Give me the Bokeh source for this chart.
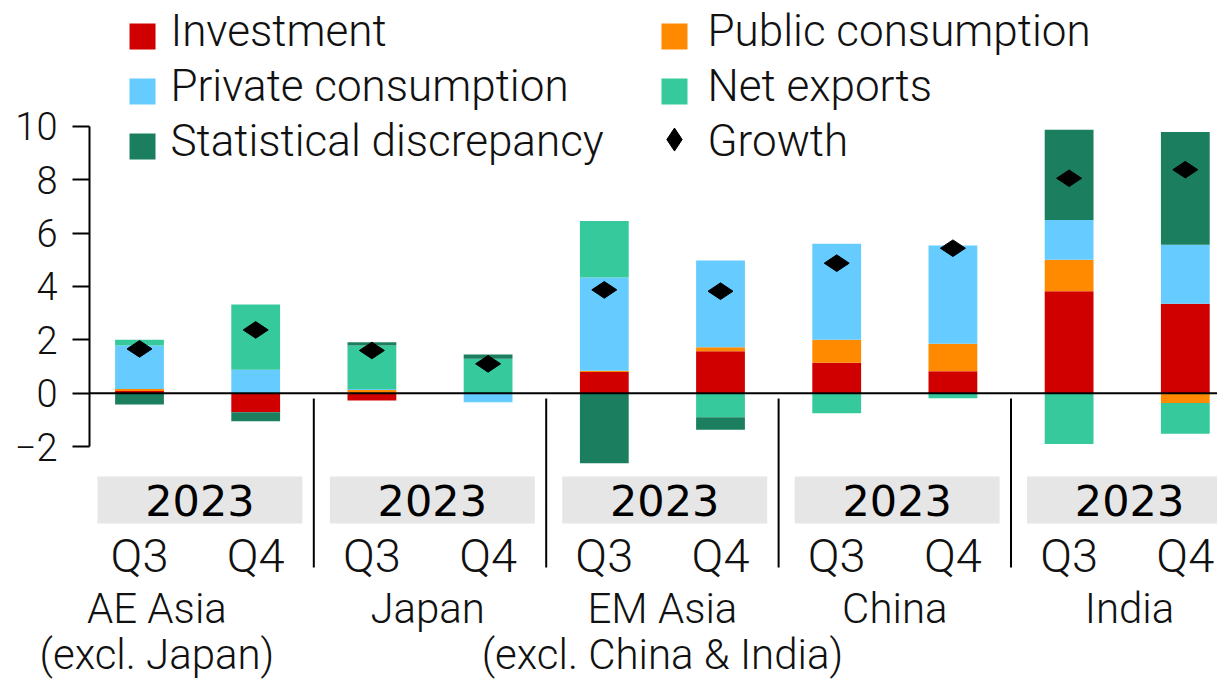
import math
from bokeh.plotting import figure
from bokeh.embed import file_html
from bokeh.resources import INLINE
from bokeh.models import Range1d, LinearAxis, FixedTicker, Span
from bokeh.core.properties import value

# ---------------- data ----------------
regions = ["AE Asia", "Japan", "EM Asia", "China", "India"]
region_notes = ["(excl. Japan)", "", "(excl. China & India)", "", ""]
year_label = "2023"
quarters = ["Q3", "Q4"]

investment  = [0.08, -0.71, -0.27,  0.00,  0.79,  1.57,  1.14,  0.82,  3.82,  3.35]
public_cons = [0.08,  0.00,  0.12,  0.00,  0.05,  0.15,  0.86,  1.03,  1.18, -0.37]
private_cons= [1.63,  0.88,  0.04, -0.34,  3.49,  3.25,  3.60,  3.68,  1.49,  2.21]
net_exports = [0.21,  2.44,  1.63,  1.29,  2.12, -0.90, -0.75, -0.19, -1.90, -1.15]
stat_disc   = [-0.42, -0.34, 0.12,  0.16, -2.62, -0.47,  0.00,  0.00,  3.38,  4.22]
growth      = [1.66,  2.37,  1.60,  1.10,  3.87,  3.82,  4.87,  5.43,  8.05,  8.37]

series_names = ["Investment", "Public consumption", "Private consumption",
                "Net exports", "Statistical discrepancy"]
series_vals = [investment, public_cons, private_cons, net_exports, stat_disc]
colors = ["#d10000", "#ff8a00", "#66ccff", "#36c99c", "#1b7f5f"]

y_ticks = [-2, 0, 2, 4, 6, 8, 10]

# ---------------- layout ----------------
FONT = "Roboto Light"
n_bars = len(investment)
bar_x = [i + 0.5 for i in range(n_bars)]
group_x = [2 * g + 1 for g in range(len(regions))]
sep_x = [2 * g for g in range(1, len(regions))]
region_label_x = [0.65, 2.98, 5.0, 7.0, 9.02]

p = figure(width=1217, height=683, output_backend="svg", toolbar_location=None,
           x_range=Range1d(0.0697, 9.777), y_range=Range1d(-7.015, 14.708),
           x_axis_type=None, y_axis_type=None,
           min_border_left=89, min_border_right=0, min_border_top=0, min_border_bottom=103)
p.outline_line_color = None
p.grid.visible = False
p.background_fill_color = "white"
p.border_fill_color = "white"

# y axis (bracket style)
yaxis = LinearAxis(ticker=FixedTicker(ticks=y_ticks), bounds=(-2, 10))
yaxis.axis_line_color = "black"
yaxis.axis_line_width = 2
yaxis.major_tick_line_color = "black"
yaxis.major_tick_line_width = 2
yaxis.major_tick_in = 0
yaxis.major_tick_out = 17
yaxis.minor_tick_line_color = None
yaxis.major_label_standoff = 15
yaxis.major_label_text_font = FONT
yaxis.major_label_text_font_size = "38px"
yaxis.major_label_text_color = "#111111"
p.add_layout(yaxis, "left")

# region names as a bottom axis (two-line labels)
region_text = {}
for rx, name, note in zip(region_label_x, regions, region_notes):
    region_text[rx] = name + ("\n" + note if note else "")
xaxis = LinearAxis(ticker=FixedTicker(ticks=region_label_x, minor_ticks=[]),
                   major_label_overrides=region_text)
xaxis.axis_line_color = None
xaxis.major_tick_line_color = None
xaxis.minor_tick_line_color = None
xaxis.major_tick_in = 0
xaxis.major_tick_out = 0
xaxis.major_label_standoff = 3
xaxis.major_label_text_font = FONT
xaxis.major_label_text_font_size = "42px"
xaxis.major_label_text_line_height = 0.95
xaxis.major_label_text_color = "#111111"
xaxis.major_label_text_align = "center"
p.add_layout(xaxis, "below")

# stacked bars (positive and negative stacks separately)
pos_base = [0.0] * n_bars
neg_base = [0.0] * n_bars
for name, vals, col in zip(series_names, series_vals, colors):
    bottoms, tops = [], []
    for i, v in enumerate(vals):
        if v >= 0:
            bottoms.append(pos_base[i]); tops.append(pos_base[i] + v); pos_base[i] += v
        else:
            bottoms.append(neg_base[i]); tops.append(neg_base[i] + v); neg_base[i] += v
    p.vbar(x=bar_x, bottom=bottoms, top=tops, width=0.42, fill_color=col, line_color=None)

# zero line
p.add_layout(Span(location=0, dimension="width", line_color="black", line_width=2))

# growth markers
p.scatter(x=bar_x, y=growth, marker="diamond", size=25, angle=math.pi / 2,
          fill_color="black", line_color="black")

# group separators
p.segment(x0=sep_x, y0=[-0.2] * len(sep_x), x1=sep_x, y1=[-6.53] * len(sep_x),
          line_color="black", line_width=2)

# year boxes and labels
p.rect(x=[gx + 0.02 for gx in group_x], y=[-4.0] * len(group_x), width=1.764, height=1.76,
       fill_color="#e6e6e6", line_color=None)
p.text(x=[gx + 0.02 for gx in group_x], y=[-4.02] * len(group_x), text=[year_label] * len(group_x),
       text_font=value("DejaVu Sans"), text_font_size="43px", text_align="center",
       text_baseline="alphabetic", text_color="#000000")

# quarter labels
p.text(x=bar_x, y=[-6.08] * n_bars, text=[quarters[i % 2] for i in range(n_bars)],
       text_font=value(FONT), text_font_size="47px", text_align="center",
       text_baseline="alphabetic", text_color="#111111")

# legend (manual, two columns)
leg_sq_x = [0.526, 5.104, 0.526, 5.104, 0.526]
leg_sq_y = [13.36, 13.36, 11.30, 11.30, 9.24]
leg_tx_x = [0.766, 5.388, 0.766, 5.388, 0.766]
leg_tx_y = [13.58, 13.58, 11.52, 11.52, 9.46]
p.rect(x=leg_sq_x, y=leg_sq_y, width=26, height=26, width_units="screen", height_units="screen",
       fill_color=colors, line_color=None)
p.text(x=leg_tx_x, y=leg_tx_y, text=series_names, text_font=value(FONT), text_font_size="44px",
       text_align="left", text_baseline="alphabetic", text_color="#111111")
p.scatter(x=[5.104], y=[9.5], marker="diamond", size=23, fill_color="black", line_color="black")
p.text(x=[5.388], y=[9.46], text=["Growth"], text_font=value(FONT), text_font_size="44px",
       text_align="left", text_baseline="alphabetic", text_color="#111111")

open("out.html", "w").write(file_html(p, INLINE))
